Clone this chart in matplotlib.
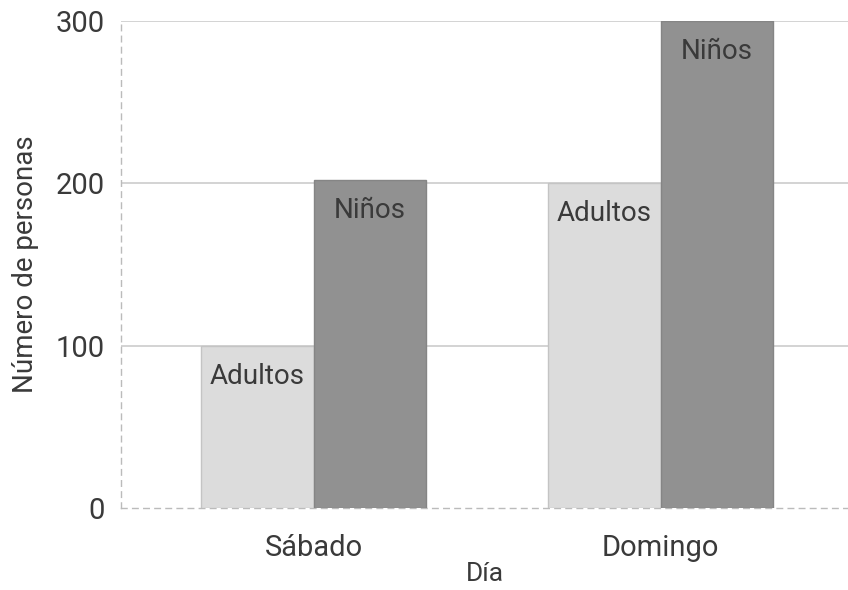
import matplotlib
matplotlib.use("Agg")
from matplotlib import pyplot as plt
import numpy as np

# data
dias = ["Sábado", "Domingo"]
adultos = [100, 200]
ninos = [202, 300]
grupos = ["Adultos", "Niños"]

plt.rcParams['font.family'] = ['Roboto', 'DejaVu Sans']

fig = plt.figure(figsize=(8.48, 5.9), dpi=100)
ax = fig.add_axes([121/848, 1 - 508/590, 1 - 121/848, (508 - 21)/590])

x = np.arange(len(dias))
w = 0.324
txt = "#3a3a3a"

b1 = ax.bar(x - w/2, adultos, w, color="#dcdcdc", edgecolor="#c4c4c4", linewidth=1, zorder=3)
b2 = ax.bar(x + w/2, ninos, w, color="#919191", edgecolor="#858585", linewidth=1, zorder=3)

# names inside the bars, near the top
for bars, name in zip([b1, b2], grupos):
    for r in bars:
        ax.annotate(name, (r.get_x() + r.get_width()/2, r.get_height()),
                    xytext=(0, -22), textcoords="offset points",
                    ha="center", va="center", fontsize=20, color=txt, zorder=4)

ax.set_xlim(-0.555, 1.54)
ax.set_ylim(0, 300)
ax.set_yticks([0, 100, 200, 300])
ax.set_xticks(x)
ax.set_xticklabels(dias)

# solid gridlines, dashed axis lines
for v in [100, 200, 300]:
    ax.axhline(v, color="#cccccc", linewidth=1.2, zorder=1)
for s in ["top", "right"]:
    ax.spines[s].set_visible(False)
for s in ["left", "bottom"]:
    ax.spines[s].set_linestyle((0, (4, 4)))
    ax.spines[s].set_color("#bbbbbb")
    ax.spines[s].set_linewidth(1)

ax.tick_params(axis="both", length=0, labelsize=21, colors=txt)
ax.tick_params(axis="y", pad=12)
ax.tick_params(axis="x", pad=19)

ax.set_xlabel("Día", fontsize=19, color=txt, labelpad=0)
ax.set_ylabel("Número de personas", fontsize=20, color=txt, labelpad=12)

fig.savefig("out.png", dpi=100)
